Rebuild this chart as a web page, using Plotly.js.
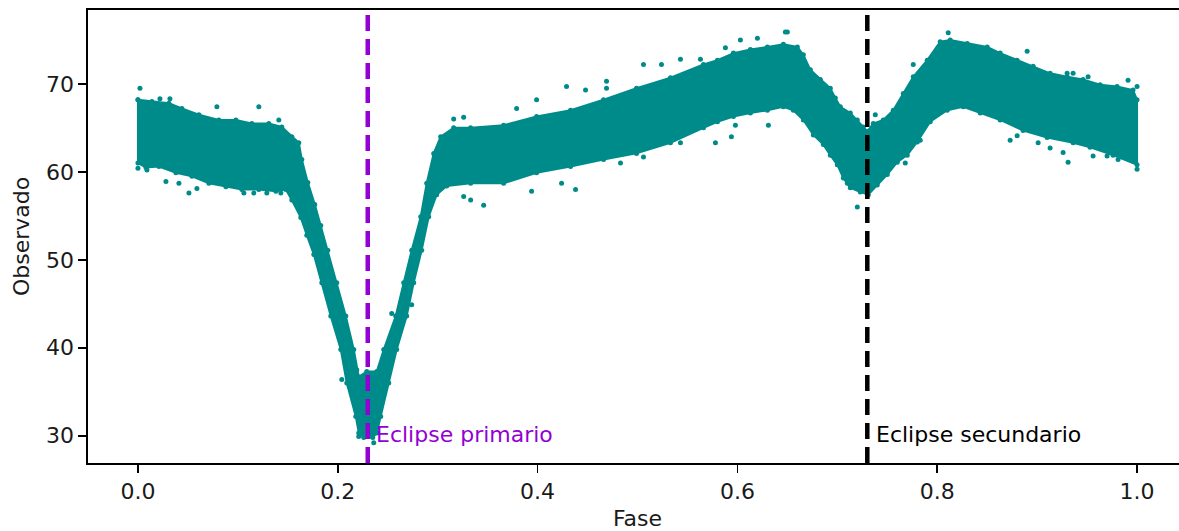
<!DOCTYPE html>
<html><head><meta charset="utf-8">
<script src="https://cdn.plot.ly/plotly-3.0.1.min.js"></script>
<style>html,body{margin:0;padding:0;background:#fff;overflow:hidden;width:1179px;height:531px}#chart{width:1200px;height:531px}</style>
</head><body><div id="chart"></div>
<script>
// Upper edge of the dense band of observations (phase, observed)
const upperPhase = [0.000,0.014,0.031,0.044,0.061,0.081,0.098,0.114,0.131,0.144,0.154,0.161,0.164,0.170,0.177,0.183,0.190,0.199,0.208,0.216,0.221,0.229,0.239,0.246,0.258,0.266,0.274,0.283,0.289,0.296,0.303,0.316,0.333,0.366,0.399,0.433,0.466,0.499,0.533,0.566,0.580,0.596,0.613,0.630,0.646,0.660,0.666,0.673,0.683,0.693,0.698,0.703,0.713,0.720,0.726,0.730,0.736,0.746,0.756,0.766,0.776,0.790,0.803,0.813,0.830,0.850,0.863,0.880,0.896,0.913,0.930,0.946,0.963,0.980,0.996,1.000];
const upperFlux = [68.2,68.0,67.8,67.2,66.5,65.9,65.9,65.5,65.5,65.1,64.0,63.3,61.4,58.8,56.3,53.9,51.1,47.4,43.6,39.8,36.7,37.3,37.3,39.8,43.6,47.4,51.1,54.9,58.7,62.1,64.0,65.0,65.0,65.3,66.3,67.0,68.2,69.5,70.7,72.2,72.7,73.5,73.9,74.2,74.5,74.2,73.3,71.6,70.5,69.5,68.4,67.4,66.7,65.9,65.1,64.6,65.5,65.9,67.0,68.9,70.8,72.7,74.8,75.0,74.6,74.2,73.5,72.7,72.0,71.2,70.8,70.5,69.9,69.7,69.3,68.2];
// Lower edge of the dense band
const lowerPhase = [0.000,0.008,0.021,0.038,0.054,0.071,0.088,0.104,0.121,0.138,0.148,0.154,0.163,0.169,0.176,0.184,0.193,0.203,0.209,0.218,0.221,0.226,0.235,0.239,0.243,0.251,0.259,0.269,0.276,0.284,0.291,0.299,0.309,0.333,0.366,0.399,0.433,0.466,0.499,0.533,0.566,0.580,0.596,0.613,0.630,0.646,0.656,0.666,0.676,0.686,0.693,0.700,0.706,0.713,0.723,0.731,0.740,0.750,0.760,0.770,0.780,0.793,0.810,0.826,0.843,0.863,0.886,0.910,0.936,0.953,0.976,1.000];
const lowerFlux = [61.0,60.5,60.6,59.9,59.5,58.7,58.3,58.0,58.0,57.8,58.0,56.8,54.8,52.8,50.6,47.4,43.6,39.8,36.0,32.2,30.3,29.8,29.8,30.3,32.2,36.0,39.8,43.6,47.4,51.1,54.9,57.4,58.4,58.7,58.7,59.9,60.6,61.4,62.1,63.3,65.0,65.7,66.3,66.7,67.0,67.4,67.0,65.9,64.2,63.1,61.9,60.8,59.3,58.2,57.7,57.4,58.5,59.7,61.1,61.9,63.4,65.7,67.0,67.4,66.7,65.9,64.7,63.9,63.3,62.8,61.9,60.8];
// Scattered individual observations outside the dense band
const strayPhase = [0.002,0.000,0.009,0.028,0.041,0.051,0.059,0.079,0.121,0.106,0.116,0.129,0.141,0.022,0.032,0.143,0.204,0.221,0.236,0.274,0.254,0.219,0.429,0.448,0.469,0.469,0.506,0.524,0.543,0.563,0.399,0.379,0.316,0.326,0.394,0.438,0.346,0.424,0.483,0.506,0.543,0.578,0.333,0.326,0.603,0.620,0.648,0.650,0.588,0.594,0.631,0.598,0.720,0.776,0.738,0.710,0.811,0.890,0.930,0.936,0.951,0.991,1.000,0.873,0.880,0.901,0.913,0.926,0.931,0.956,0.970,0.981,1.000,0.768,0.783];
const strayFlux = [69.5,60.4,60.2,58.9,58.7,57.6,58.1,67.4,67.4,57.6,57.6,57.6,65.9,68.3,68.3,57.6,36.4,29.9,29.2,44.9,43.9,37.5,69.7,69.3,70.3,69.5,72.2,72.2,72.8,72.8,68.2,67.2,66.0,66.2,57.8,58.0,56.2,58.7,61.0,61.7,63.3,63.3,56.8,57.2,75.0,75.2,75.9,75.9,74.1,64.0,65.3,65.3,56.0,72.2,66.5,58.7,75.8,73.7,71.2,71.2,70.8,70.4,69.7,63.6,64.1,63.3,62.7,62.2,61.1,61.8,61.8,61.4,60.3,61.0,63.6];
// Eclipse markers
const eclipsePhases = [0.23, 0.73];
const eclipseLabels = ['Eclipse primario', 'Eclipse secundario'];
const eclipseColors = ['#9400d3', '#000000'];
const xTicks = [0.0, 0.2, 0.4, 0.6, 0.8, 1.0];
const yTicks = [30, 40, 50, 60, 70];

const teal = '#008b8b';
const bandX = upperPhase.concat(lowerPhase.slice().reverse(), [upperPhase[0]]);
const bandY = upperFlux.concat(lowerFlux.slice().reverse(), [upperFlux[0]]);

const traces = [
  {x: bandX, y: bandY, type: 'scatter', mode: 'lines+markers', fill: 'toself',
   fillcolor: teal, line: {color: teal, width: 2}, marker: {color: teal, size: 5},
   hoverinfo: 'skip'},
  {x: strayPhase, y: strayFlux, type: 'scatter', mode: 'markers',
   marker: {color: teal, size: 5}, hoverinfo: 'skip'}
];

const shapes = eclipsePhases.map((p, i) => ({
  type: 'line', xref: 'x', yref: 'paper', x0: p, x1: p, y0: 0, y1: 1,
  line: {color: eclipseColors[i], width: 4.5, dash: '16px,8px'}
}));
const annotations = eclipsePhases.map((p, i) => ({
  x: p + 0.0075, y: 30.15, xref: 'x', yref: 'y', text: eclipseLabels[i],
  showarrow: false, xanchor: 'left', yanchor: 'middle', borderpad: 0,
  font: {family: 'DejaVu Sans', size: 22, color: eclipseColors[i]}
}));

const axisCommon = {
  ticks: 'outside', ticklen: 8, tickwidth: 1.6, tickcolor: '#000',
  showline: true, linecolor: '#000', linewidth: 1.6, mirror: true,
  showgrid: false, zeroline: false,
  tickfont: {family: 'DejaVu Sans', size: 22, color: '#1a1a1a'}
};

const layout = {
  width: 1200, height: 531,
  margin: {l: 88, r: 13, t: 10, b: 68},
  paper_bgcolor: '#fff', plot_bgcolor: '#fff', showlegend: false,
  font: {family: 'DejaVu Sans', size: 22, color: '#1a1a1a'},
  xaxis: Object.assign({}, axisCommon, {
    range: [-0.05, 1.05], tickvals: xTicks, ticktext: xTicks.map(v => v.toFixed(1)),
    title: {text: 'Fase', font: {family: 'DejaVu Sans', size: 22, color: '#1a1a1a'}, standoff: 8}
  }),
  yaxis: Object.assign({}, axisCommon, {
    range: [26.9, 78.4], tickvals: yTicks, ticktext: yTicks.map(String),
    title: {text: 'Observado', font: {family: 'DejaVu Sans', size: 22, color: '#1a1a1a'}, standoff: 10}
  }),
  shapes: shapes, annotations: annotations
};

Plotly.newPlot('chart', traces, layout, {displayModeBar: false, staticPlot: true});
</script></body></html>
